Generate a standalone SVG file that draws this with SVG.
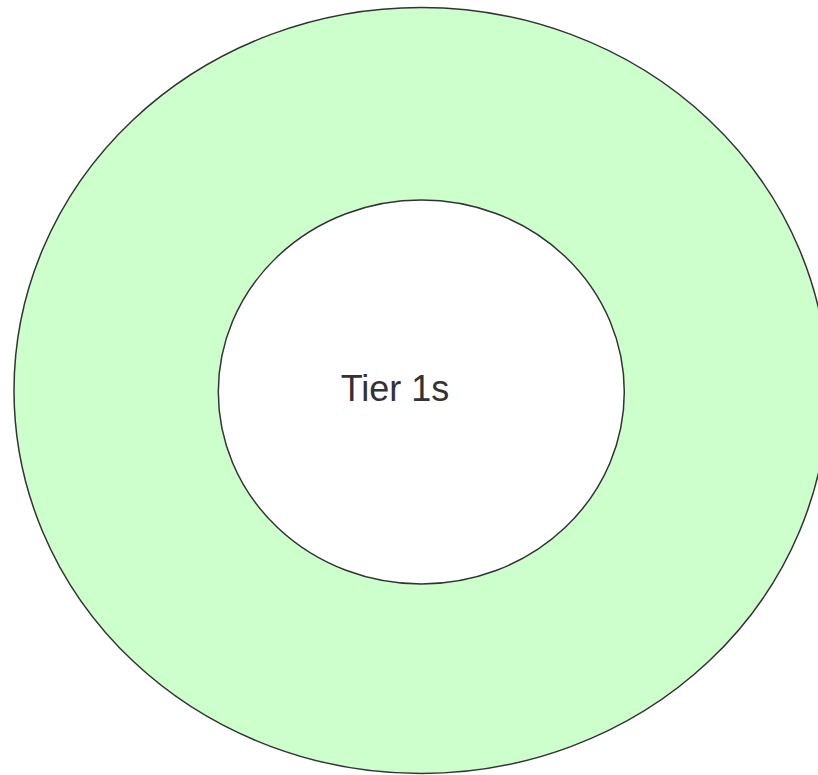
<svg xmlns="http://www.w3.org/2000/svg" width="818" height="775" viewBox="0 0 818 775">
<style>
.ring{fill:#ccffcc;stroke:#333333;stroke-width:1.5}
.core{fill:#ffffff;stroke:#333333;stroke-width:1.5}
.lbl{font-family:"Liberation Sans",Arial,sans-serif;font-size:36px;fill:#333333;text-anchor:middle}
</style>
<rect width="818" height="775" fill="#ffffff"/>
<g id="outer"><ellipse class="ring" cx="421" cy="390.5" rx="407" ry="383"/></g>
<g id="tier1"><ellipse class="core" cx="421.3" cy="392" rx="203" ry="192"/>
<text class="lbl" x="395" y="401">Tier 1s</text></g>
<g id="connectors"></g>
</svg>
